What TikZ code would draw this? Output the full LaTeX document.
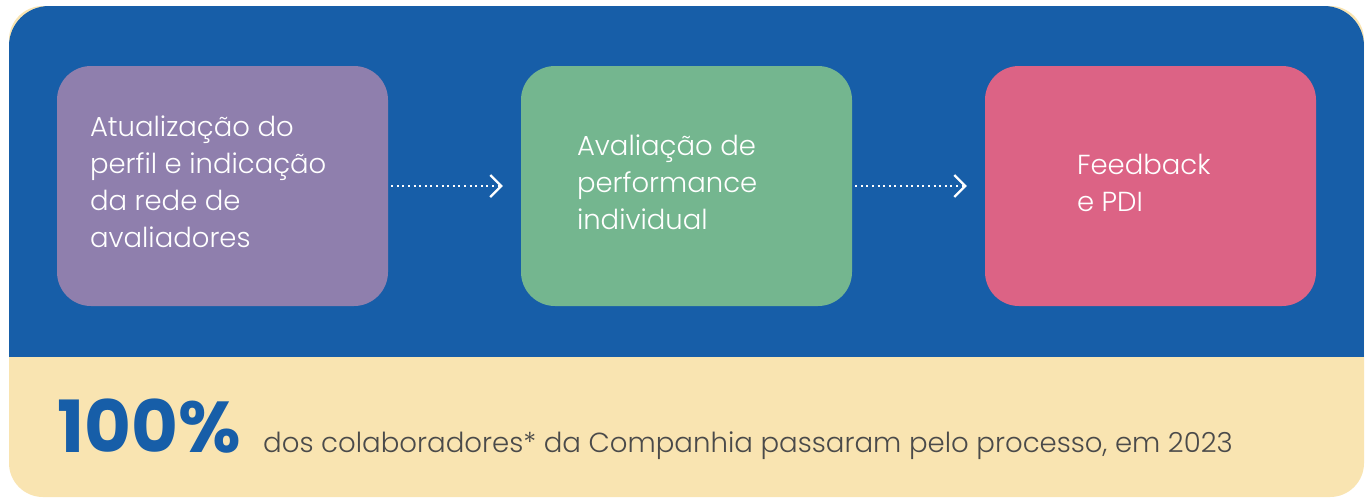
\documentclass[tikz,border=0pt]{standalone}
\usepackage{fontspec}
\setmainfont{Poppins Light}[BoldFont=Poppins Bold]
\usetikzlibrary{arrows.meta, positioning, calc}
\definecolor{panelblue}{HTML}{175EA8}
\definecolor{stepviolet}{HTML}{8F7FAD}
\definecolor{stepgreen}{HTML}{74B68F}
\definecolor{steppink}{HTML}{DC6385}
\definecolor{notecream}{HTML}{F9E4B1}
\definecolor{notegray}{HTML}{4A4A4A}
\tikzset{
  stepbox/.style={rounded corners=34pt, minimum width=331pt, minimum height=240pt,
    inner sep=0pt},
  steptext/.style={anchor=west, align=left, text=white, inner sep=0pt,
    font=\fontsize{27.5}{37}\selectfont},
  flow/.style={white, line width=2pt, dash pattern=on 2pt off 3.6pt,
    -{Straight Barb[length=11pt, width=22pt, line width=2.2pt]},
    shorten <=3pt, shorten >=18pt}
}
\begin{document}
\begin{tikzpicture}[x=1pt, y=-1pt]
  \useasboundingbox (0,0) rectangle (1370,499);
  \fill[white] (0,0) rectangle (1370,499);
  % panel
  \fill[notecream, rounded corners=34pt] (9,6) rectangle (1364,497);
  \begin{scope}
    \clip[rounded corners=40pt] (9,6) rectangle (1364,497);
    \fill[panelblue] (9,6) rectangle (1364,357);
  \end{scope}
  % steps
  \node[stepbox, fill=stepviolet] (prof) at (222.5,186) {};
  \node[stepbox, fill=stepgreen] (aval) at (686.5,186) {};
  \node[stepbox, fill=steppink] (feed) at (1150.5,186) {};
  \node[steptext] (proft) at ($(prof.west)+(33,-4)$) {Atualização do\\perfil e indicação\\da rede de\\avaliadores};
  \node[steptext] (avalt) at ($(aval.west)+(56,-4)$) {Avaliação de\\performance\\individual};
  \node[steptext] (feedt) at ($(feed.west)+(92,-3)$) {Feedback\\e PDI};
  \draw[flow] (prof) -- (aval);
  \draw[flow] (aval) -- (feed);
  % note
  \node[anchor=base west, inner sep=0pt, text=panelblue,
    font=\fontsize{72}{72}\selectfont\bfseries] (pct) at (57,452) {100\%};
  \node[anchor=base west, inner sep=0pt, text=notegray,
    font=\fontsize{27.6}{32}\selectfont] (note) at (263,452)
    {dos colaboradores* da Companhia passaram pelo processo, em 2023};
\end{tikzpicture}
\end{document}
